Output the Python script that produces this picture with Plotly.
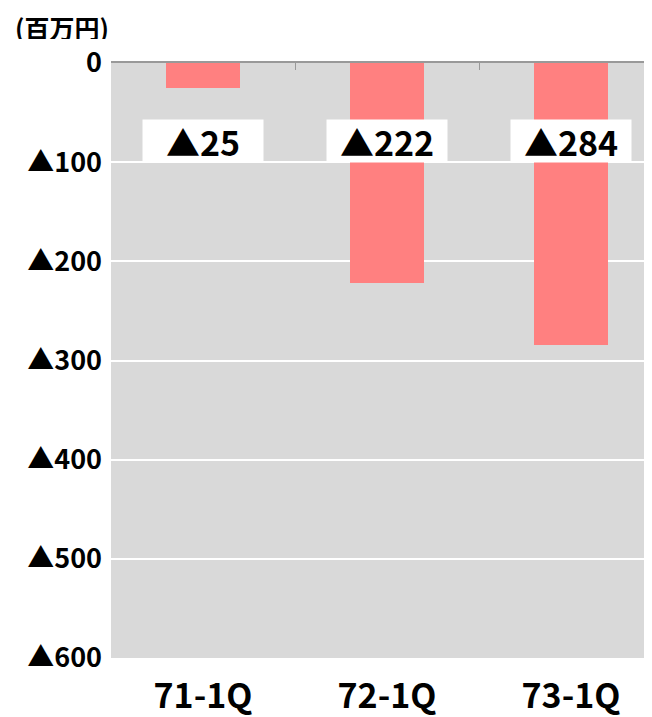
import plotly.graph_objects as go

categories = ["71-1Q", "72-1Q", "73-1Q"]
values = [-25, -222, -284]
labels = ["▲25", "▲222", "▲284"]
ytick_vals = [0, -100, -200, -300, -400, -500, -600]
ytick_text = ["0", "▲100", "▲200", "▲300", "▲400", "▲500", "▲600"]
label_y = -79

FONT = "Noto Sans CJK JP"
XR = [-0.5, 2.44]

fig = go.Figure()
fig.add_trace(go.Bar(
    x=list(range(len(categories))), y=values,
    marker=dict(color="#ff8080", line=dict(width=0)),
    width=0.4, showlegend=False, hoverinfo="skip",
))

for i, t in enumerate(labels):
    fig.add_annotation(
        x=i, y=label_y, xref="x", yref="y", text=t, showarrow=False,
        bgcolor="white", width=118, height=40, borderpad=1,
        font=dict(family=FONT, size=34, color="black", weight=700),
    )

fig.add_annotation(
    x=0, y=1, xref="paper", yref="paper", xanchor="left", yanchor="middle",
    text="(百万円)", showarrow=False, xshift=-97, yshift=37,
    height=25, borderpad=0,
    font=dict(family=FONT, size=25, color="black", weight=700),
)

fig.update_layout(
    width=644, height=709,
    margin=dict(l=103, r=0, t=55, b=59, autoexpand=False),
    paper_bgcolor="white", plot_bgcolor="#d9d9d9",
    bargap=0,
    xaxis=dict(
        range=XR, tickvals=list(range(len(categories))),
        ticktext=categories, showgrid=False, zeroline=False, showline=False,
        ticks="", ticklabelstandoff=15, automargin=False,
        tickfont=dict(family=FONT, size=34, color="black", weight=700),
    ),
    xaxis2=dict(
        overlaying="x", side="top", range=XR, matches="x",
        tickvals=[-0.5, 0.5, 1.5], ticktext=["", "", ""], ticks="inside",
        ticklen=7, tickcolor="#999999", showline=True, linecolor="#999999",
        linewidth=1.5, showgrid=False, zeroline=False, automargin=False,
    ),
    yaxis=dict(
        range=[-600, 0], tickvals=ytick_vals, ticktext=ytick_text,
        showgrid=True, gridcolor="white", gridwidth=2, zeroline=False,
        showline=False, ticks="", ticklabelstandoff=8, automargin=False,
        tickfont=dict(family=FONT, size=27, color="black", weight=700),
    ),
)
fig.add_trace(go.Scatter(x=[0], y=[0], xaxis="x2", mode="markers",
                         marker=dict(opacity=0), showlegend=False, hoverinfo="skip"))

fig.write_html("out.html")
